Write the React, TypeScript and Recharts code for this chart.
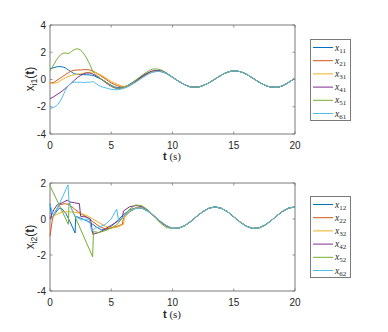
import React from 'react';
import { LineChart, Line, XAxis, YAxis, ReferenceArea } from 'recharts';

const COLORS = ['#0072BD', '#D95319', '#EDB120', '#7E2F8E', '#77AC30', '#4DBEEE'];
const X_TICKS = [0, 5, 10, 15, 20];
const Y1_TICKS = [-4, -2, 0, 2, 4];
const Y2_TICKS = [-4, -2, 0, 2];
const LEGEND1 = ['11', '21', '31', '41', '51', '61'];
const LEGEND2 = ['12', '22', '32', '42', '52', '62'];

// shared time grid for the first plot
const T_HEAD = [0, 0.25, 0.5, 0.75, 1, 1.25, 1.5, 1.75, 2, 2.25, 2.5, 2.75, 3, 3.25, 3.5, 3.75, 4, 4.5, 5, 5.5, 6, 6.5, 7, 7.5, 8, 8.5, 9, 9.5];
const T_TAIL = [10, 10.5, 11, 11.5, 12, 12.5, 13, 13.5, 14, 14.5, 15, 15.5, 16, 16.5, 17, 17.5, 18, 18.5, 19, 19.5, 20];

// converged part (all agents coincide)
const TAIL1 = [0.16, -0.13, -0.38, -0.54, -0.56, -0.44, -0.23, 0.05, 0.33, 0.54, 0.63, 0.58, 0.4, 0.13, -0.16, -0.4, -0.55, -0.57, -0.45, -0.2, 0.09];
const TAIL2 = [-0.52, -0.51, -0.37, -0.13, 0.16, 0.42, 0.61, 0.67, 0.59, 0.4, 0.12, -0.16, -0.39, -0.52, -0.51, -0.36, -0.12, 0.17, 0.43, 0.61, 0.67];

// x_i1 transients
const X11 = [0.78, 0.85, 0.92, 0.95, 0.93, 0.85, 0.7, 0.55, 0.42, 0.38, 0.36, 0.35, 0.35, 0.33, 0.3, 0.2, 0.1, -0.15, -0.42, -0.58, -0.55, -0.35, -0.05, 0.25, 0.48, 0.6, 0.58, 0.43];
const X21 = [-0.25, -0.22, -0.1, 0.05, 0.2, 0.35, 0.5, 0.62, 0.68, 0.7, 0.7, 0.72, 0.72, 0.7, 0.62, 0.5, 0.35, 0.05, -0.25, -0.45, -0.55, -0.4, -0.1, 0.2, 0.45, 0.6, 0.62, 0.46];
const X31 = [-0.25, -0.28, -0.25, -0.15, 0, 0.12, 0.22, 0.3, 0.35, 0.38, 0.42, 0.46, 0.5, 0.53, 0.55, 0.5, 0.4, 0.15, -0.15, -0.35, -0.5, -0.42, -0.15, 0.15, 0.42, 0.6, 0.62, 0.47];
const X41 = [-1.4, -1.3, -1.15, -1.0, -0.85, -0.65, -0.45, -0.25, -0.05, 0.15, 0.3, 0.42, 0.48, 0.47, 0.4, 0.28, 0.15, -0.2, -0.5, -0.65, -0.62, -0.45, -0.15, 0.2, 0.48, 0.65, 0.65, 0.48];
const X51 = [0.65, 1.0, 1.4, 1.7, 1.9, 1.95, 1.9, 2.05, 2.2, 2.25, 2.15, 1.9, 1.55, 1.1, 0.6, 0.35, 0.15, -0.15, -0.45, -0.65, -0.6, -0.4, -0.05, 0.3, 0.6, 0.78, 0.72, 0.48];
const X61 = [-2.15, -2.05, -1.95, -1.7, -1.3, -0.8, -0.45, -0.25, -0.2, -0.2, -0.2, -0.22, -0.2, -0.2, -0.15, -0.3, -0.45, -0.6, -0.72, -0.75, -0.65, -0.45, -0.2, 0.1, 0.38, 0.55, 0.6, 0.45];

// x_i2 transients (own time points, switching jumps)
const T12 = [0, 0.15, 0.4, 0.75, 1.0, 1.3, 1.6, 2.05, 2.1, 2.5, 3, 3.5, 3.8, 4.2, 4.6, 5, 5.5, 6, 6.5, 7, 7.5, 8, 8.5, 9, 9.5];
const X12 = [0.85, 0.05, 0.3, 0.6, 0.55, 0.3, -0.1, -0.78, 0.15, 0.05, -0.1, -0.3, -0.45, -0.6, -0.6, -0.4, -0.1, 0.25, 0.5, 0.62, 0.6, 0.42, 0.15, -0.15, -0.38];
const T22 = [0, 0.2, 0.5, 0.8, 1.2, 1.6, 2, 2.5, 3, 3.5, 4, 4.5, 5, 5.5, 5.9, 6.0, 6.5, 7, 7.5, 8, 8.5, 9, 9.5];
const X22 = [-0.95, 0.0, 0.5, 0.8, 0.85, 0.8, 0.55, 0.3, 0.1, -0.15, -0.4, -0.55, -0.5, -0.4, -0.3, 0.05, 0.4, 0.6, 0.62, 0.45, 0.15, -0.15, -0.38];
const T32 = [0, 0.5, 1, 1.5, 2, 2.5, 3, 3.5, 4, 4.5, 5, 5.5, 6.0, 6.1, 6.5, 7, 7.5, 8, 8.5, 9, 9.5];
const X32 = [0.0, 0.25, 0.4, 0.4, 0.38, 0.3, 0.2, 0.0, -0.2, -0.4, -0.5, -0.45, -0.3, 0.2, 0.45, 0.6, 0.62, 0.45, 0.15, -0.12, -0.36];
const T42 = [0, 0.3, 0.6, 1.0, 1.4, 1.6, 2.0, 2.4, 2.5, 3.0, 3.3, 3.5, 4, 4.5, 5, 5.5, 5.9, 6.0, 6.5, 7, 7.5, 8, 8.5, 9, 9.5];
const X42 = [0.0, 0.5, 0.8, 0.9, 1.05, 0.95, 0.9, 0.85, 0.15, 0.1, 0.0, -0.85, -0.75, -0.55, -0.35, -0.15, 0.05, 0.45, 0.68, 0.75, 0.68, 0.48, 0.18, -0.14, -0.4];
const T52 = [0, 1.5, 1.55, 3.48, 3.55, 4, 4.5, 5, 5.5, 6, 6.5, 7, 7.5, 8, 8.5, 9, 9.5];
const X52 = [1.85, -0.3, 0.9, -2.1, -0.7, -0.75, -0.65, -0.5, -0.3, 0.15, 0.55, 0.78, 0.74, 0.5, 0.15, -0.22, -0.48];
const T62 = [0, 0.3, 0.8, 1.47, 1.55, 1.8, 2.0, 2.5, 3.2, 3.4, 3.7, 4, 4.5, 5, 5.45, 5.6, 6, 6.5, 7, 7.5, 8, 8.5, 9, 9.5];
const X62 = [0.8, 0.2, 0.9, 1.9, 1.0, 0.5, 0.2, -0.05, 0.0, -0.7, -0.5, -0.45, -0.3, 0.0, 0.55, -0.1, 0.15, 0.42, 0.58, 0.62, 0.45, 0.18, -0.12, -0.37];

const HEADS1 = [X11, X21, X31, X41, X51, X61];
const data1 = T_HEAD.concat(T_TAIL).map((t, i) => {
  const row: any = { t };
  HEADS1.forEach((arr, k) => {
    row['s' + k] = i < T_HEAD.length ? arr[i] : TAIL1[i - T_HEAD.length];
  });
  return row;
});

const SER2: [number[], number[]][] = [[T12, X12], [T22, X22], [T32, X32], [T42, X42], [T52, X52], [T62, X62]];
const data2 = SER2.map(([ts, vs]) =>
  ts.map((t, i) => ({ t, v: vs[i] })).concat(T_TAIL.map((t, i) => ({ t, v: TAIL2[i] })))
);

const W = 388;
const PL = 50;
const PR = 295;
const AX = '#7a7a7a';
const TXT = '#262626';
const FONT = '"Liberation Sans", Arial, sans-serif';

function makeXTick(top: number, bottom: number) {
  return (p: any) => {
    const { x, payload } = p;
    return (
      <g>
        <line x1={x} x2={x} y1={bottom} y2={bottom - 2.5} stroke={AX} strokeWidth={0.8} />
        <line x1={x} x2={x} y1={top} y2={top + 2.5} stroke={AX} strokeWidth={0.8} />
        <text x={x} y={bottom + 15} textAnchor="middle" fontSize={10} fill={TXT} fontFamily={FONT}>
          {payload.value}
        </text>
      </g>
    );
  };
}

function YTick(p: any) {
  const { y, payload } = p;
  return (
    <g>
      <line x1={PL} x2={PL + 2.5} y1={y} y2={y} stroke={AX} strokeWidth={0.8} />
      <line x1={PR} x2={PR - 2.5} y1={y} y2={y} stroke={AX} strokeWidth={0.8} />
      <text x={PL - 4} y={y} dy="0.35em" textAnchor="end" fontSize={10} fill={TXT} fontFamily={FONT}>
        {payload.value}
      </text>
    </g>
  );
}

function Legend({ top, labels }: { top: number; labels: string[] }) {
  return (
    <g>
      <rect x={310.5} y={top + 0.5} width={40} height={81} fill="#fff" stroke={AX} strokeWidth={1} />
      {labels.map((lab, i) => {
        const y = top + 8.5 + i * 13.2;
        return (
          <g key={lab}>
            <line x1={313} x2={333} y1={y} y2={y} stroke={COLORS[i]} strokeWidth={1} />
            <text x={335} y={y + 3} fontSize={9.5} fontFamily='"Liberation Serif", serif' fill={TXT}>
              <tspan fontStyle="italic">x</tspan>
              <tspan fontSize={7} dy={2}>{lab}</tspan>
            </text>
          </g>
        );
      })}
    </g>
  );
}

function YLabel({ cx, cy, sub }: { cx: number; cy: number; sub: string }) {
  return (
    <text transform={`translate(${cx},${cy}) rotate(-90)`} textAnchor="middle" fontSize={12} fontFamily={FONT} fill={TXT}>
      <tspan>x</tspan>
      <tspan fontSize={8.5} dy={2.5}>{sub}</tspan>
      <tspan dy={-2.5}>(</tspan>
      <tspan fontWeight="bold">t</tspan>
      <tspan>)</tspan>
    </text>
  );
}

function XLabel({ cx, y }: { cx: number; y: number }) {
  return (
    <text x={cx} y={y} textAnchor="middle" fontSize={11} fill={TXT}>
      <tspan fontWeight="bold" fontFamily={FONT}>t</tspan>
      <tspan fontFamily='"Liberation Serif", serif'> (s)</tspan>
    </text>
  );
}

export default function App() {
  const top1 = 25, bot1 = 134;
  const top2 = 23, bot2 = 131;
  return (
    <div style={{ position: 'fixed', left: 0, top: 0, width: W, height: 332, background: '#fff' }}>
      <div style={{ position: 'absolute', left: 0, top: 0 }}>
        <LineChart width={W} height={166} data={data1} margin={{ top: top1, right: W - PR, bottom: 0, left: 0 }}>
          <XAxis dataKey="t" type="number" domain={[0, 20]} ticks={X_TICKS} height={166 - bot1} axisLine={false} tickLine={false} tick={makeXTick(top1, bot1)} interval={0} />
          <YAxis type="number" domain={[-4, 4]} ticks={Y1_TICKS} width={PL} axisLine={false} tickLine={false} tick={YTick} interval={0} allowDataOverflow />
          <ReferenceArea x1={0} x2={20} y1={-4} y2={4} fill="none" stroke={AX} strokeWidth={1} />
          {HEADS1.map((_, k) => (
            <Line key={k} dataKey={'s' + k} stroke={COLORS[k]} strokeWidth={1} dot={false} isAnimationActive={false} type="monotone" />
          ))}
        </LineChart>
      </div>
      <div style={{ position: 'absolute', left: 0, top: 160 }}>
        <LineChart width={W} height={172} margin={{ top: top2, right: W - PR, bottom: 0, left: 0 }}>
          <XAxis dataKey="t" type="number" domain={[0, 20]} ticks={X_TICKS} height={172 - bot2} axisLine={false} tickLine={false} tick={makeXTick(top2, bot2)} interval={0} allowDuplicatedCategory={false} />
          <YAxis type="number" domain={[-4, 2]} ticks={Y2_TICKS} width={PL} axisLine={false} tickLine={false} tick={YTick} interval={0} allowDataOverflow />
          <ReferenceArea x1={0} x2={20} y1={-4} y2={2} fill="none" stroke={AX} strokeWidth={1} />
          {data2.map((d, k) => (
            <Line key={k} data={d} dataKey="v" stroke={COLORS[k]} strokeWidth={1} dot={false} isAnimationActive={false} type="linear" />
          ))}
        </LineChart>
      </div>
      <svg width={W} height={332} style={{ position: 'absolute', left: 0, top: 0, pointerEvents: 'none' }}>
        <YLabel cx={34} cy={79} sub="i1" />
        <YLabel cx={34} cy={237} sub="i2" />
        <XLabel cx={172} y={160} />
        <XLabel cx={172} y={318} />
        <Legend top={39} labels={LEGEND1} />
        <Legend top={196} labels={LEGEND2} />
      </svg>
    </div>
  );
}
